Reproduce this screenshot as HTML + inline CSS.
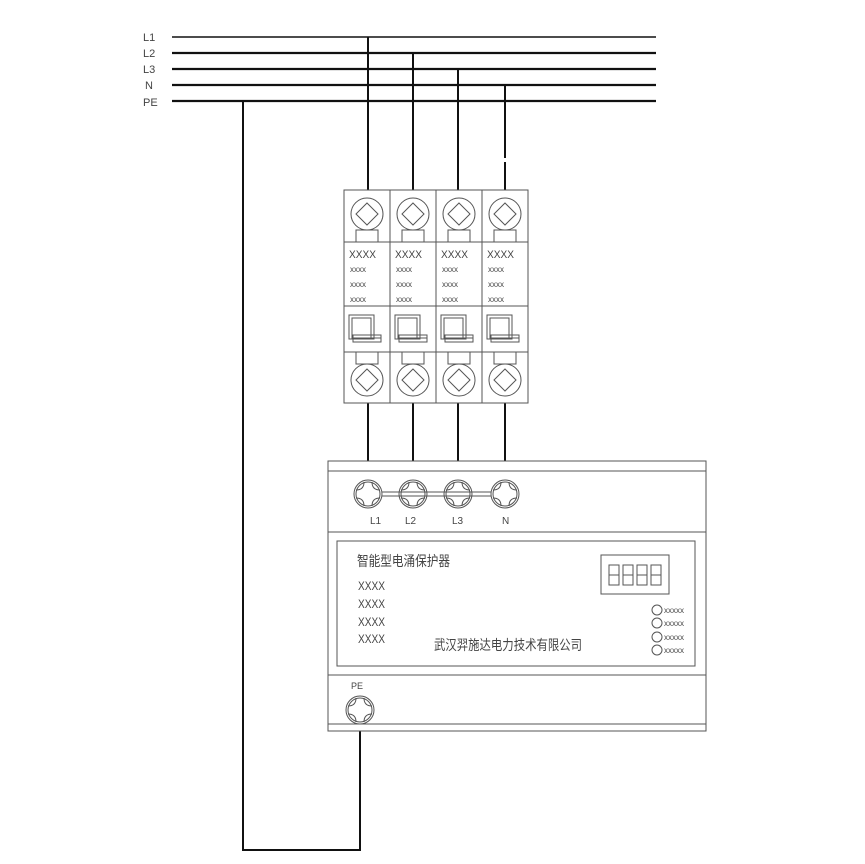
<!DOCTYPE html>
<html><head><meta charset="utf-8"><style>
html,body{margin:0;padding:0;background:#fff}
svg{display:block}
text{font-family:"Liberation Sans","Noto Sans CJK SC",sans-serif;fill:#444}
</style></head><body>
<svg width="865" height="864" viewBox="0 0 865 864" xmlns="http://www.w3.org/2000/svg">
<defs>
<g id="pole" fill="none" stroke="#555" stroke-width="1">
  <rect x="0" y="0" width="46" height="213"/>
  <circle cx="23" cy="24" r="16"/>
  <path d="M23 13 L34 24 L23 35 L12 24 Z"/>
  <rect x="12" y="40" width="22" height="12"/>
  <line x1="0" y1="52" x2="46" y2="52"/>
  <line x1="0" y1="116" x2="46" y2="116"/>
  <rect x="5" y="125" width="25" height="24"/>
  <rect x="8" y="128" width="19" height="20"/>
  <rect x="9" y="145" width="28" height="7"/>
  <line x1="9" y1="148" x2="37" y2="148"/>
  <line x1="0" y1="162" x2="46" y2="162"/>
  <rect x="12" y="162" width="22" height="12"/>
  <circle cx="23" cy="190" r="16"/>
  <path d="M23 179 L34 190 L23 201 L12 190 Z"/>
</g>
<g id="term" fill="none" stroke="#555" stroke-width="1">
  <circle cx="0" cy="0" r="14"/>
  <circle cx="0" cy="0" r="12"/>
  <path d="M-4 -12 Q-4 -4 -12 -4 M4 -12 Q4 -4 12 -4 M-4 12 Q-4 4 -12 4 M4 12 Q4 4 12 4"/>
</g>
</defs>
<!-- bus lines -->
<g stroke="#111" stroke-width="2.2">
  <line x1="172" y1="37" x2="656" y2="37" stroke-width="1.6"/>
  <line x1="172" y1="53" x2="656" y2="53"/>
  <line x1="172" y1="69" x2="656" y2="69"/>
  <line x1="172" y1="85" x2="656" y2="85"/>
  <line x1="172" y1="101" x2="656" y2="101"/>
</g>
<g font-size="11" fill="#555">
  <text x="143" y="41">L1</text>
  <text x="143" y="57">L2</text>
  <text x="143" y="73">L3</text>
  <text x="145" y="89">N</text>
  <text x="143" y="106">PE</text>
</g>
<g stroke="#111" stroke-width="2" fill="none">
  <line x1="368" y1="37" x2="368" y2="190"/>
  <line x1="413" y1="53" x2="413" y2="190"/>
  <line x1="458" y1="69" x2="458" y2="190"/>
  <line x1="505" y1="85" x2="505" y2="158"/>
  <line x1="505" y1="162" x2="505" y2="190"/>
  <polyline points="243,101 243,850 360,850 360,731"/>
  <line x1="368" y1="403" x2="368" y2="461"/>
  <line x1="413" y1="403" x2="413" y2="461"/>
  <line x1="458" y1="403" x2="458" y2="461"/>
  <line x1="505" y1="403" x2="505" y2="461"/>
</g>
<!-- breaker -->
<use href="#pole" x="344" y="190"/>
<use href="#pole" x="390" y="190"/>
<use href="#pole" x="436" y="190"/>
<use href="#pole" x="482" y="190"/>
<g font-size="11">
  <text x="349" y="258" textLength="27" lengthAdjust="spacingAndGlyphs">XXXX</text>
  <text x="395" y="258" textLength="27" lengthAdjust="spacingAndGlyphs">XXXX</text>
  <text x="441" y="258" textLength="27" lengthAdjust="spacingAndGlyphs">XXXX</text>
  <text x="487" y="258" textLength="27" lengthAdjust="spacingAndGlyphs">XXXX</text>
</g>
<g font-size="8">
  <text x="350" y="272">xxxx</text><text x="396" y="272">xxxx</text><text x="442" y="272">xxxx</text><text x="488" y="272">xxxx</text>
  <text x="350" y="287">xxxx</text><text x="396" y="287">xxxx</text><text x="442" y="287">xxxx</text><text x="488" y="287">xxxx</text>
  <text x="350" y="302">xxxx</text><text x="396" y="302">xxxx</text><text x="442" y="302">xxxx</text><text x="488" y="302">xxxx</text>
</g>
<!-- device -->
<g fill="none" stroke="#555" stroke-width="1">
  <rect x="328" y="461" width="378" height="270"/>
  <line x1="328" y1="471" x2="706" y2="471"/>
  <line x1="328" y1="532" x2="706" y2="532"/>
  <rect x="337" y="541" width="358" height="125"/>
  <line x1="328" y1="675" x2="706" y2="675"/>
  <line x1="328" y1="724" x2="706" y2="724"/>
  <line x1="382" y1="492" x2="491" y2="492"/>
  <line x1="382" y1="496" x2="491" y2="496"/>
  <rect x="601" y="555" width="68" height="39"/>
  <rect x="609" y="565" width="10" height="20"/><line x1="609" y1="575" x2="619" y2="575"/>
  <rect x="623" y="565" width="10" height="20"/><line x1="623" y1="575" x2="633" y2="575"/>
  <rect x="637" y="565" width="10" height="20"/><line x1="637" y1="575" x2="647" y2="575"/>
  <rect x="651" y="565" width="10" height="20"/><line x1="651" y1="575" x2="661" y2="575"/>
  <circle cx="657" cy="610" r="5"/>
  <circle cx="657" cy="623" r="5"/>
  <circle cx="657" cy="637" r="5"/>
  <circle cx="657" cy="650" r="5"/>
</g>
<use href="#term" x="368" y="494"/>
<use href="#term" x="413" y="494"/>
<use href="#term" x="458" y="494"/>
<use href="#term" x="505" y="494"/>
<use href="#term" x="360" y="710"/>
<g font-size="10" fill="#555">
  <text x="370" y="524">L1</text>
  <text x="405" y="524">L2</text>
  <text x="452" y="524">L3</text>
  <text x="502" y="524">N</text>
  <text x="351" y="689" font-size="9">PE</text>
</g>
<text x="357" y="566" font-size="14" textLength="93" lengthAdjust="spacingAndGlyphs">智能型电涌保护器</text>
<g font-size="12">
  <text x="358" y="590" textLength="27" lengthAdjust="spacingAndGlyphs">XXXX</text>
  <text x="358" y="608" textLength="27" lengthAdjust="spacingAndGlyphs">XXXX</text>
  <text x="358" y="626" textLength="27" lengthAdjust="spacingAndGlyphs">XXXX</text>
  <text x="358" y="643" textLength="27" lengthAdjust="spacingAndGlyphs">XXXX</text>
</g>
<text x="434" y="650" font-size="14" textLength="148" lengthAdjust="spacingAndGlyphs">武汉羿施达电力技术有限公司</text>
<g font-size="8">
  <text x="664" y="613">xxxxx</text>
  <text x="664" y="626">xxxxx</text>
  <text x="664" y="640">xxxxx</text>
  <text x="664" y="653">xxxxx</text>
</g>
</svg>
</body></html>
